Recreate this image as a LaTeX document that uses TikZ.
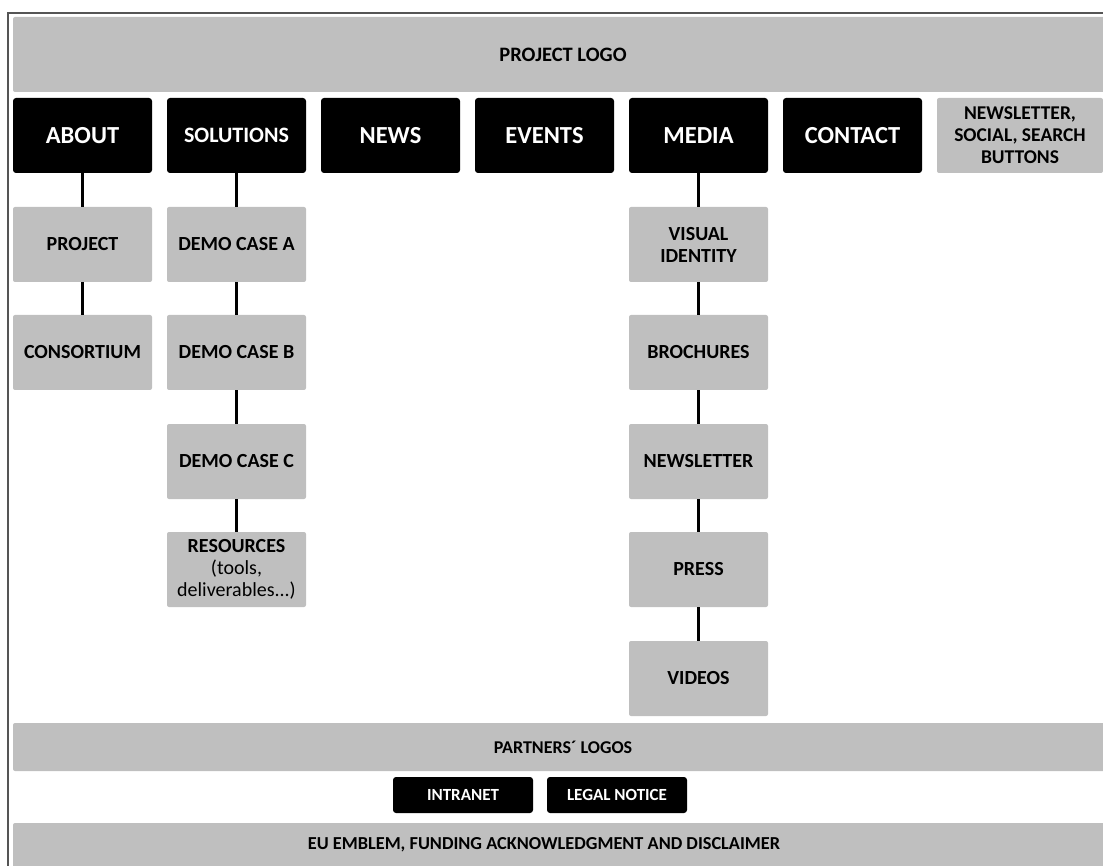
\documentclass[tikz,border=0pt]{standalone}
\usepackage{fontspec}
\setmainfont{Carlito}
\definecolor{boxgray}{HTML}{BFBFBF}
\definecolor{framegray}{HTML}{555555}
\begin{document}
\begin{tikzpicture}[x=1pt,y=-1pt,
  base/.style={inner sep=0pt, align=center, font=\bfseries\fontsize{20}{22}\selectfont},
  gbox/.style={base, fill=boxgray, rounded corners=2pt, minimum width=139pt, minimum height=75pt, text=black},
  menu/.style={base, fill=black, rounded corners=3pt, minimum width=139pt, minimum height=75pt, text=white, font=\bfseries\fontsize{24.5}{28}\selectfont},
  bar/.style={base, fill=boxgray, rounded corners=2pt, minimum width=1100pt},
  small/.style={base, fill=black, rounded corners=3pt, minimum width=140pt, minimum height=36pt, text=white, font=\bfseries\fontsize{17}{19}\selectfont},
  link/.style={line width=3pt, black}
]
\useasboundingbox (0,0) rectangle (1103,866);
% frame
\draw[framegray, line width=1.5pt] (8,870) -- (8,13) -- (1110,13);
% top bar
\node[bar, minimum height=75pt, font=\bfseries\fontsize{20.5}{22}\selectfont] (logo) at (563,54.5) {PROJECT LOGO};
% menu
\node[menu] (about) at (82.5,135.5) {ABOUT};
\node[menu, font=\bfseries\fontsize{22}{24}\selectfont] (solutions) at (236.5,135.5) {SOLUTIONS};
\node[menu] (news) at (390.5,135.5) {NEWS};
\node[menu] (events) at (544.5,135.5) {EVENTS};
\node[menu] (media) at (698.5,135.5) {MEDIA};
\node[menu] (contact) at (852.5,135.5) {CONTACT};
\node[gbox, minimum width=166pt, font=\bfseries\fontsize{19.5}{22}\selectfont] (nsb) at (1020,135.5) {NEWSLETTER,\\SOCIAL, SEARCH\\BUTTONS};
% about
\node[gbox] (project) at (82.5,244.5) {PROJECT};
\node[gbox] (consortium) at (82.5,352.5) {CONSORTIUM};
% solutions
\node[gbox] (demoa) at (236.5,244.5) {DEMO CASE A};
\node[gbox] (demob) at (236.5,352.5) {DEMO CASE B};
\node[gbox] (democ) at (236.5,461.5) {DEMO CASE C};
\node[gbox] (resources) at (236.5,569.5) {RESOURCES\\\mdseries (tools,\\\mdseries deliverables...)};
% media
\node[gbox] (visual) at (698.5,244.5) {VISUAL\\IDENTITY};
\node[gbox] (brochures) at (698.5,352.5) {BROCHURES};
\node[gbox] (newsletter) at (698.5,461.5) {NEWSLETTER};
\node[gbox] (press) at (698.5,569.5) {PRESS};
\node[gbox] (videos) at (698.5,678.5) {VIDEOS};
% connectors
\draw[link] (about) -- (project);
\draw[link] (project) -- (consortium);
\draw[link] (solutions) -- (demoa);
\draw[link] (demoa) -- (demob);
\draw[link] (demob) -- (democ);
\draw[link] (democ) -- (resources);
\draw[link] (media) -- (visual);
\draw[link] (visual) -- (brochures);
\draw[link] (brochures) -- (newsletter);
\draw[link] (newsletter) -- (press);
\draw[link] (press) -- (videos);
% footer
\node[bar, minimum height=48pt, font=\bfseries\fontsize{18}{22}\selectfont] (partners) at (563,747) {PARTNERS\textasciiacute{} LOGOS};
\node[small] (intranet) at (463,795) {INTRANET};
\node[small] (legal) at (617,795) {LEGAL NOTICE};
\node[bar, minimum height=46pt] (eu) at (563,846) {};
\node[base, font=\bfseries\fontsize{18.3}{22}\selectfont] (eutext) at (544,845) {EU EMBLEM, FUNDING ACKNOWLEDGMENT AND DISCLAIMER};
\end{tikzpicture}
\end{document}
